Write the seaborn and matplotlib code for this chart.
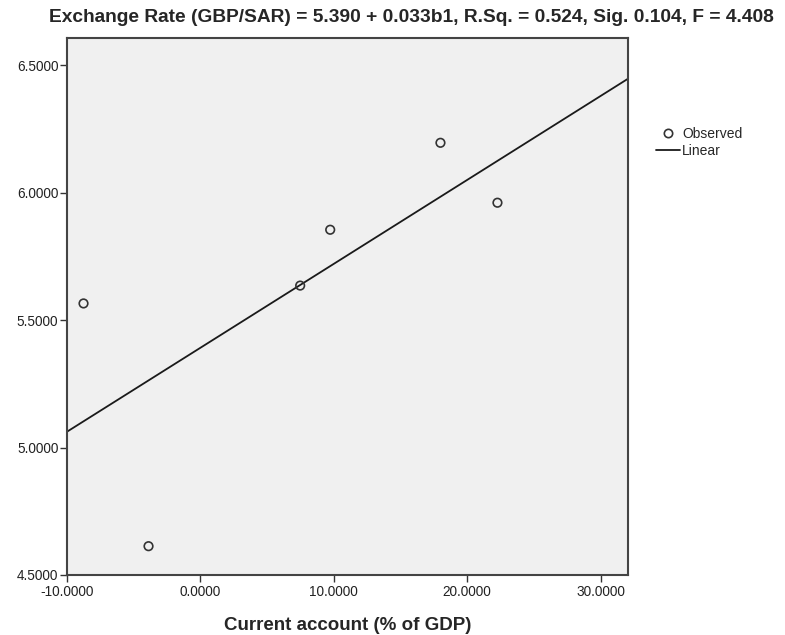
import matplotlib
matplotlib.use("Agg")
import matplotlib.pyplot as plt
import seaborn as sns
import pandas as pd
import numpy as np
from matplotlib.lines import Line2D

current_account = [-8.74, -3.87, 7.49, 9.74, 18.0, 22.27]
exchange_rate = [5.565, 4.613, 5.635, 5.854, 6.195, 5.96]
x_ticks = [-10, 0, 10, 20, 30]
y_ticks = [4.5, 5.0, 5.5, 6.0, 6.5]
title = "Exchange Rate (GBP/SAR) = 5.390 + 0.033b1, R.Sq. = 0.524, Sig. 0.104, F = 4.408"

df = pd.DataFrame({"x": current_account, "y": exchange_rate})

sns.set_style("white")
plt.rcParams["font.family"] = ["Liberation Sans", "DejaVu Sans"]

fig = plt.figure(figsize=(7.85, 6.35), dpi=100)
ax = fig.add_axes([66.7 / 785, 1 - 575 / 635, (628 - 66.7) / 785, (575 - 38) / 635])
ax.set_facecolor("#F0F0F0")
ax.set_xlim(-10, 32.05)
ax.set_ylim(4.5, 6.606)

sns.regplot(data=df, x="x", y="y", ci=None, truncate=False, scatter=False,
            line_kws={"color": "#1a1a1a", "lw": 1.3}, ax=ax)
ax.set_xlim(-10, 32.05)
sns.scatterplot(data=df, x="x", y="y", marker="o", s=38, facecolor="none",
                edgecolor="#333333", linewidth=1.2, ax=ax, zorder=3)

ax.set_xticks(x_ticks)
ax.set_yticks(y_ticks)
ax.set_xticklabels([f"{v:.4f}" for v in x_ticks], fontsize=9.8, color="#222222")
ax.set_yticklabels([f"{v:.4f}" for v in y_ticks], fontsize=9.8, color="#222222")
ax.tick_params(axis="x", direction="out", length=5, width=1, color="#333333", pad=2.5,
               bottom=True)
ax.tick_params(axis="y", direction="out", length=5, width=1, color="#333333", pad=1,
               left=True)
for s in ax.spines.values():
    s.set_color("#444444")
    s.set_linewidth(1.5)

ax.set_xlabel("Current account (% of GDP)", fontsize=13.5, fontweight="bold", labelpad=13)
ax.set_ylabel("")
fig.text(0.5 * (40 + 783) / 785, 1 - 17 / 635, title, ha="center", va="center",
         fontsize=13.8, fontweight="bold")

handles = [
    Line2D([], [], marker="o", linestyle="none", markerfacecolor="none",
           markeredgecolor="#333333", markeredgewidth=1.2, markersize=6),
    Line2D([], [], color="#1a1a1a", lw=1.3),
]
fig.legend(handles, ["Observed", "Linear"], loc="upper left",
           bbox_to_anchor=(649 / 785, 1 - 120 / 635), frameon=False, fontsize=10,
           handlelength=1.7, handletextpad=0.2, labelspacing=0.2, borderpad=0)

fig.savefig("out.png", dpi=100)
